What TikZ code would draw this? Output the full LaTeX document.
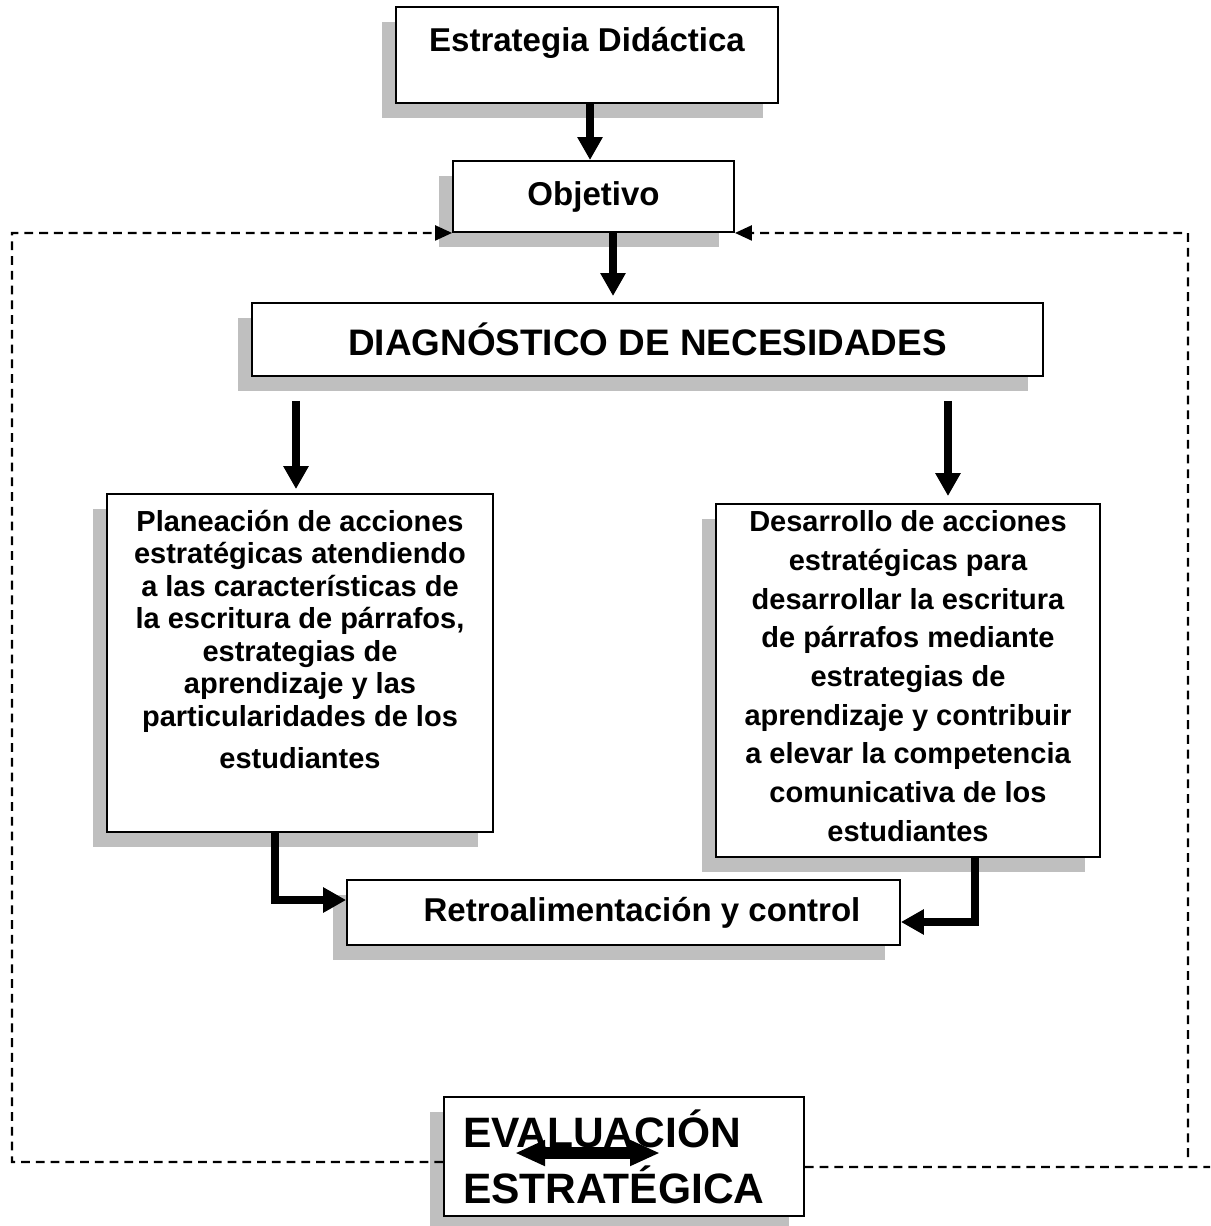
\documentclass[tikz,border=0pt]{standalone}
\usepackage{fontspec}
\setmainfont{Liberation Sans}
\usetikzlibrary{arrows.meta, positioning, calc, shadows}

\begin{document}
\begin{tikzpicture}[x=0.02cm, y=-0.02cm]
    \tikzstyle{caja} = [rectangle, draw=black, line width=1.1pt, fill=white, inner sep=0pt, font=\bfseries, drop shadow={shadow xshift=-0.29cm, shadow yshift=-0.3cm, fill=black!25, opacity=1}]
    \tikzstyle{flecha} = [line width=4.3pt, -{Triangle[length=0.46cm, width=0.48cm]}]
    \tikzstyle{retorno} = [line width=1.35pt, dash pattern=on 5pt off 3.4pt]
    \tikzstyle{punta} = [-{Triangle[length=0.34cm, width=0.3cm]}]

    \useasboundingbox (0,0) rectangle (1210,1226);

    \node[caja, minimum width=7.64cm, minimum height=1.92cm] (estrategia) at (587,55) {\parbox[t][1.92cm][t]{7.64cm}{\vspace*{0.41cm}\centering\fontsize{18.8}{22}\selectfont Estrategia Didáctica}};
    \node[caja, minimum width=5.62cm, minimum height=1.42cm, font=\bfseries\fontsize{18.8}{22}\selectfont] (objetivo) at (593.5,196.5) {Objetivo};
    \node[caja, minimum width=15.82cm, minimum height=1.46cm, font=\bfseries\fontsize{21}{25}\selectfont] (diagnostico) at (647.5,339.5) {DIAGNÓSTICO DE NECESIDADES};
    \node[caja, minimum width=7.72cm, minimum height=6.76cm] (planeacion) at (300,663) {\parbox[t][6.76cm][t]{7.72cm}{\vspace*{0.32cm}\centering\fontsize{16.5}{18.5}\selectfont
        Planeación de acciones\\ estratégicas atendiendo\\ a las características de\\ la escritura de párrafos,\\ estrategias de\\ aprendizaje y las\\ particularidades de los\\[0.2cm] estudiantes}};
    \node[caja, minimum width=7.68cm, minimum height=7.06cm] (desarrollo) at (908,680.5) {\parbox[t][7.06cm][t]{7.68cm}{\vspace*{0.13cm}\centering\fontsize{16.5}{22.05}\selectfont
        Desarrollo de acciones\\ estratégicas para\\ desarrollar la escritura\\ de párrafos mediante\\ estrategias de\\ aprendizaje y contribuir\\ a elevar la competencia\\ comunicativa de los\\ estudiantes}};
    \node[caja, minimum width=11.06cm, minimum height=1.3cm, font=\bfseries\fontsize{18.8}{22}\selectfont] (retro) at (623.5,912.5) {\hspace*{0.74cm}Retroalimentación y control};
    \node[caja, minimum width=7.2cm, minimum height=2.38cm, inner xsep=0.38cm, text width=6.44cm, align=left, font=\bfseries\fontsize{24.2}{31.9}\selectfont] (evaluacion) at (624,1156.5) {EVALUACIÓN\\ ESTRATÉGICA};

    % flechas principales
    \coordinate (p1) at ([xshift=-0.08cm]planeacion.north);
    \coordinate (d1) at ([xshift=0.8cm]desarrollo.north);
    \draw[flecha] ([xshift=0.06cm]estrategia.south) -- ([xshift=0.06cm]estrategia.south |- objetivo.north);
    \draw[flecha, shorten >=0.12cm] ([xshift=0.39cm]objetivo.south) -- ([xshift=0.39cm]objetivo.south |- diagnostico.north);
    \draw[flecha, shorten <=0.48cm, shorten >=0.08cm] (diagnostico.south -| p1) -- (p1);
    \draw[flecha, shorten <=0.48cm, shorten >=0.14cm] (diagnostico.south -| d1) -- (d1);
    \draw[flecha] ([xshift=-0.5cm]planeacion.south) |- ([yshift=0.25cm]retro.west);
    \draw[flecha] ([xshift=1.34cm]desarrollo.south) |- ([yshift=-0.19cm]retro.east);

    % flecha doble en la evaluacion
    \draw[line width=6.5pt, {Triangle[length=0.6cm, width=0.48cm]}-{Triangle[length=0.6cm, width=0.48cm]}] ([shift={(-2.18cm,0.07cm)}]evaluacion.center) -- ([shift={(0.72cm,0.07cm)}]evaluacion.center);

    % lazo de retorno punteado
    \coordinate (esqIzq) at (12,233);
    \coordinate (esqDer) at (1188,233);
    \coordinate (finDer) at (1188,1157);
    \coordinate (bordeDer) at (1210,1167);
    \draw[retorno, punta] ([yshift=-0.11cm]evaluacion.west) -| (esqIzq) -- (objetivo.south west);
    \draw[retorno, punta] (finDer) -- (esqDer) -- (objetivo.south east);
    \draw[retorno] ([yshift=-0.21cm]evaluacion.east) -- (bordeDer);
\end{tikzpicture}
\end{document}
